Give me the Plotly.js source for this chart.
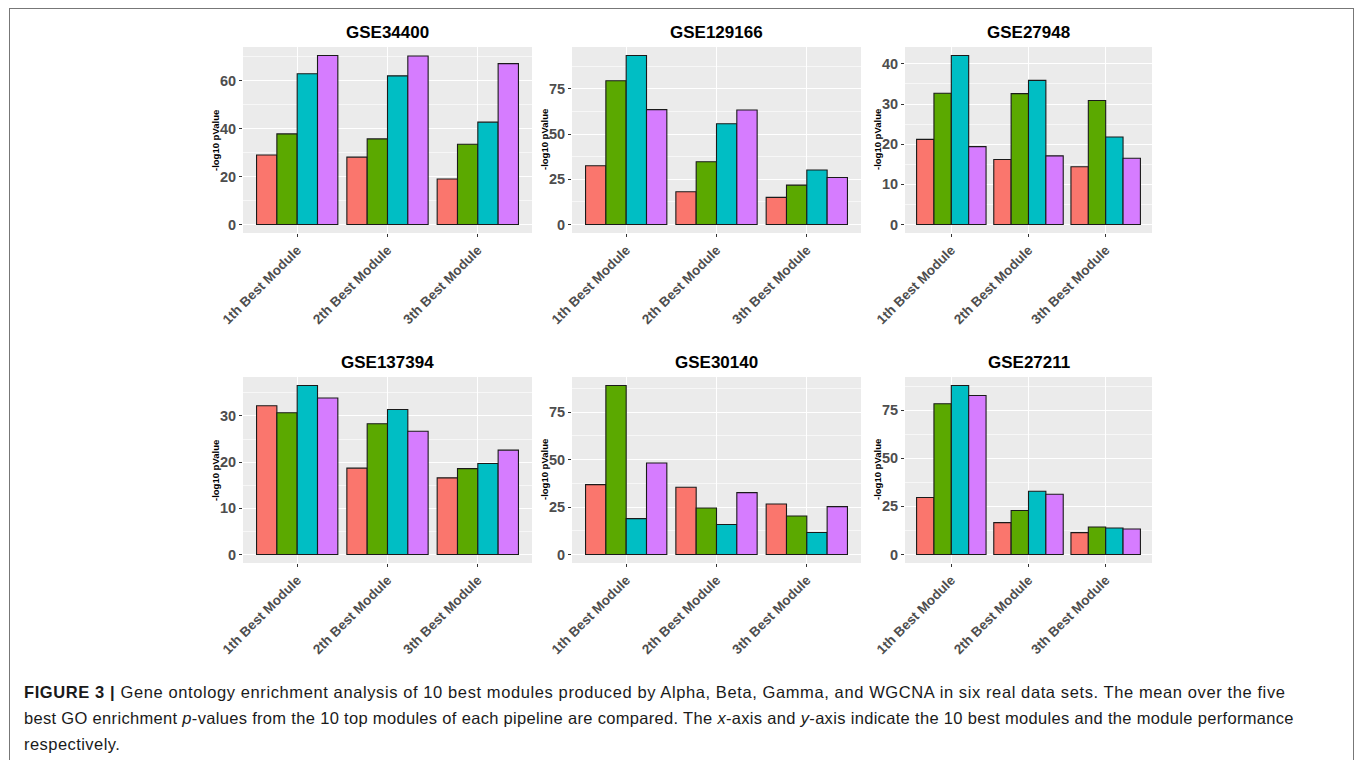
<!DOCTYPE html>
<html>
<head>
<meta charset="utf-8">
<script src="https://cdn.plot.ly/plotly-3.0.1.min.js"></script>
<style>
  html, body { margin: 0; padding: 0; background: #fff; width: 1355px; height: 760px; overflow: hidden; }
  #frame { position: absolute; left: 9px; top: 8px; width: 1345px; height: 760px; box-sizing: border-box;
           border: 1.5px solid #777; border-bottom: none; pointer-events: none; }
  #chart { position: absolute; left: 0; top: 0; width: 1355px; height: 760px; }
  #caption { position: absolute; left: 24px; top: 679px; width: 1320px; font-family: "Liberation Sans", Arial, sans-serif;
             font-size: 16.5px; line-height: 26px; color: #1a1a1a; white-space: nowrap; }
  #caption .l1 { letter-spacing: 0.6px; }
  #caption .l2 { letter-spacing: 0.32px; }
  #caption .l3 { letter-spacing: 0.45px; }
</style>
</head>
<body>
<div id="chart"></div>
<div id="frame"></div>
<div id="caption"><span class="l1"><b>FIGURE 3 |</b> Gene ontology enrichment analysis of 10 best modules produced by Alpha, Beta, Gamma, and WGCNA in six real data sets. The mean over the five</span><br><span class="l2">best GO enrichment <i>p</i>-values from the 10 top modules of each pipeline are compared. The <i>x</i>-axis and <i>y</i>-axis indicate the 10 best modules and the module performance</span><br><span class="l3">respectively.</span></div>
<script>
// ---- data ----
const categories = ["1th Best Module", "2th Best Module", "3th Best Module"];
const seriesNames = ["Alpha", "Beta", "Gamma", "WGCNA"];
const seriesColors = ["#FA766D", "#5BA900", "#00BEC4", "#D67CFF"];
const datasetNames = ["GSE34400", "GSE129166", "GSE27948", "GSE137394", "GSE30140", "GSE27211"];
const yTickSteps = [20, 25, 10, 10, 25, 25];

// rows: Alpha, Beta, Gamma, WGCNA ; columns: 1th, 2th, 3th best module
const GSE34400  = [[29.0, 28.1, 19.0], [37.8, 35.7, 33.5], [62.9, 62.0, 42.7], [70.5, 70.3, 67.1]];
const GSE129166 = [[32.5, 18.1, 15.0], [79.4, 34.7, 21.8], [93.4, 55.7, 30.1], [63.5, 63.3, 26.0]];
const GSE27948  = [[21.2, 16.2, 14.4], [32.7, 32.6, 30.9], [42.1, 35.9, 21.8], [19.4, 17.1, 16.5]];
const GSE137394 = [[32.2, 18.7, 16.6], [30.7, 28.3, 18.6], [36.6, 31.4, 19.7], [33.9, 26.7, 22.6]];
const GSE30140  = [[36.8, 35.4, 26.6], [89.0, 24.5, 20.3], [18.9, 15.8, 11.6], [48.2, 32.6, 25.2]];
const GSE27211  = [[29.6, 16.6, 11.4], [78.3, 22.9, 14.3], [87.8, 32.9, 13.8], [82.6, 31.3, 13.3]];
const datasetValues = [GSE34400, GSE129166, GSE27948, GSE137394, GSE30140, GSE27211];

// ---- layout geometry (pixels) ----
const W = 1355, H = 760;
const colPx = [[243, 532], [572, 861], [905, 1152]];
const rowPx = [[47, 233], [377, 563]];
const FONT = '"Liberation Sans", Arial, sans-serif';

const traces = [];
const layout = {
  width: W, height: H,
  margin: {l: 0, r: 0, t: 0, b: 0},
  paper_bgcolor: 'rgba(0,0,0,0)',
  plot_bgcolor: '#EBEBEB',
  showlegend: false,
  barmode: 'group',
  bargap: 0.1,
  bargroupgap: 0,
  font: {family: FONT},
  annotations: []
};

datasetValues.forEach((vals, d) => {
  const col = d % 3, row = Math.floor(d / 3);
  const sfx = d === 0 ? '' : String(d + 1);
  vals.forEach((series, s) => {
    traces.push({
      type: 'bar', x: categories, y: series, name: seriesNames[s],
      xaxis: 'x' + sfx, yaxis: 'y' + sfx,
      marker: {color: seriesColors[s], line: {color: '#1a1a1a', width: 1.1}},
      hoverinfo: 'x+y+name'
    });
  });
  const maxV = Math.max(...vals.flat());
  const xd = [colPx[col][0] / W, colPx[col][1] / W];
  const yd = [1 - rowPx[row][1] / H, 1 - rowPx[row][0] / H];
  layout['xaxis' + sfx] = {
    domain: xd, anchor: 'y' + sfx, type: 'category', range: [-0.6, 2.6],
    showgrid: true, gridcolor: '#FFFFFF', gridwidth: 1.1, zeroline: false, showline: false,
    ticks: 'outside', ticklen: 3, tickwidth: 1, tickcolor: '#333333',
    tickangle: -45, tickfont: {family: FONT, size: 13.5, color: '#4D4D4D', weight: 'bold'},
    fixedrange: true
  };
  layout['yaxis' + sfx] = {
    domain: yd, anchor: 'x' + sfx, range: [-0.05 * maxV, 1.05 * maxV],
    dtick: yTickSteps[d], tick0: 0,
    showgrid: true, gridcolor: '#FFFFFF', gridwidth: 1.1, zeroline: false, showline: false,
    minor: {dtick: yTickSteps[d] / 2, tick0: 0, showgrid: true, gridcolor: '#F7F7F7', gridwidth: 0.6, ticks: ''},
    ticks: 'outside', ticklen: 3, tickwidth: 1, tickcolor: '#333333',
    tickfont: {family: FONT, size: 14.5, color: '#4D4D4D', weight: 'bold'},
    fixedrange: true
  };
  // panel title
  layout.annotations.push({
    xref: 'paper', yref: 'paper', x: (xd[0] + xd[1]) / 2, y: 1 - ((rowPx[row][0] - 14.5) / H),
    xanchor: 'center', yanchor: 'middle', showarrow: false,
    text: '<b>' + datasetNames[d] + '</b>', font: {family: FONT, size: 17, color: '#000'}
  });
  // y-axis title
  layout.annotations.push({
    xref: 'paper', yref: 'paper', x: (colPx[col][0] - 28) / W, y: (yd[0] + yd[1]) / 2,
    xanchor: 'center', yanchor: 'middle', showarrow: false, textangle: -90,
    text: '<b>-log10 pValue</b>', font: {family: FONT, size: 9.5, color: '#000'}
  });
});

Plotly.newPlot('chart', traces, layout, {displayModeBar: false, staticPlot: false});
</script>
</body>
</html>
